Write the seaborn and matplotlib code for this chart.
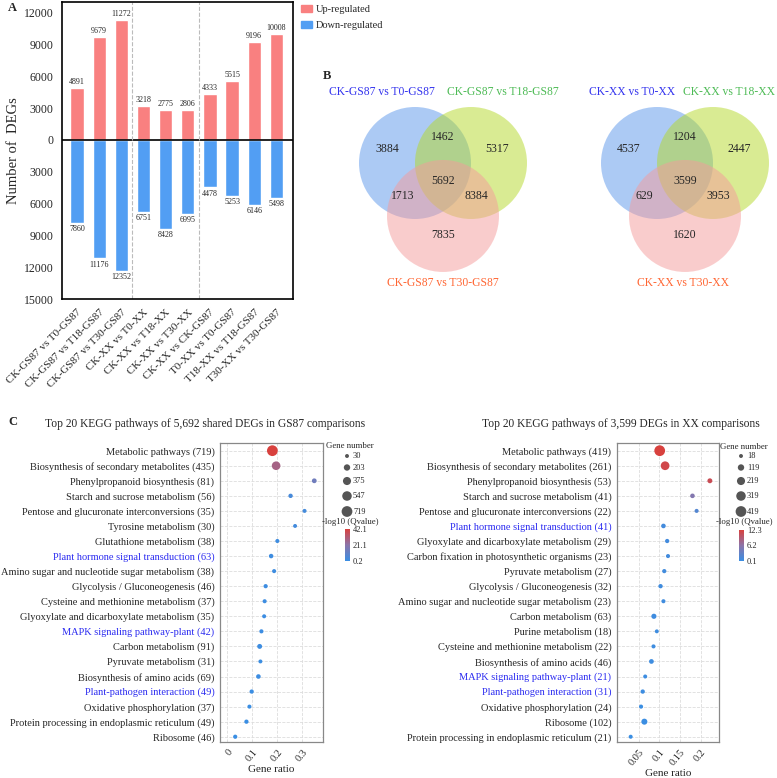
import numpy as np
import pandas as pd
import matplotlib
matplotlib.use('Agg')
import matplotlib.pyplot as plt
import seaborn as sns
from matplotlib.patches import Circle, Patch
from matplotlib.colors import LinearSegmentedColormap, Normalize
from matplotlib.cm import ScalarMappable

# ---------------- data ----------------
comparisons = ['CK-GS87 vs T0-GS87', 'CK-GS87 vs T18-GS87', 'CK-GS87 vs T30-GS87',
               'CK-XX vs T0-XX', 'CK-XX vs T18-XX', 'CK-XX vs T30-XX',
               'CK-XX vs CK-GS87', 'T0-XX vs T0-GS87', 'T18-XX vs T18-GS87', 'T30-XX vs T30-GS87']
up_counts = [4891, 9679, 11272, 3218, 2775, 2806, 4333, 5515, 9196, 10008]
down_counts = [7860, 11176, 12352, 6751, 8428, 6995, 4478, 5253, 6146, 5498]

# venn regions: A only, AB, B only, AC, ABC, BC, C only
venn_gs87_sets = ['CK-GS87 vs T0-GS87', 'CK-GS87 vs T18-GS87', 'CK-GS87 vs T30-GS87']
venn_gs87_counts = [3884, 1462, 5317, 1713, 5692, 8384, 7835]
venn_xx_sets = ['CK-XX vs T0-XX', 'CK-XX vs T18-XX', 'CK-XX vs T30-XX']
venn_xx_counts = [4537, 1204, 2447, 629, 3599, 3953, 1620]

gs87_pathways = ['Metabolic pathways', 'Biosynthesis of secondary metabolites', 'Phenylpropanoid biosynthesis',
                 'Starch and sucrose metabolism', 'Pentose and glucuronate interconversions',
                 'Tyrosine metabolism', 'Glutathione metabolism', 'Plant hormone signal transduction',
                 'Amino sugar and nucleotide sugar metabolism', 'Glycolysis / Gluconeogenesis',
                 'Cysteine and methionine metabolism', 'Glyoxylate and dicarboxylate metabolism',
                 'MAPK signaling pathway-plant', 'Carbon metabolism', 'Pyruvate metabolism',
                 'Biosynthesis of amino acids', 'Plant-pathogen interaction', 'Oxidative phosphorylation',
                 'Protein processing in endoplasmic reticulum', 'Ribosome']
gs87_genes = [719, 435, 81, 56, 35, 30, 38, 63, 38, 46, 37, 35, 42, 91, 31, 69, 49, 37, 49, 46]
gs87_ratio = [0.180, 0.195, 0.348, 0.253, 0.309, 0.271, 0.200, 0.175, 0.187, 0.153,
              0.149, 0.147, 0.136, 0.129, 0.132, 0.124, 0.097, 0.088, 0.076, 0.031]
gs87_qlog = [42.1, 28.0, 14.0, 3.5, 3.0, 2.5, 1.5, 1.3, 1.2, 1.0,
             0.9, 0.8, 0.7, 0.9, 0.6, 0.8, 0.4, 0.3, 0.3, 0.2]
gs87_size_levels = [30, 203, 375, 547, 719]
gs87_q_labels = ['0.2', '21.1', '42.1']

xx_pathways = ['Metabolic pathways', 'Biosynthesis of secondary metabolites', 'Phenylpropanoid biosynthesis',
               'Starch and sucrose metabolism', 'Pentose and glucuronate interconversions',
               'Plant hormone signal transduction', 'Glyoxylate and dicarboxylate metabolism',
               'Carbon fixation in photosynthetic organisms', 'Pyruvate metabolism',
               'Glycolysis / Gluconeogenesis', 'Amino sugar and nucleotide sugar metabolism',
               'Carbon metabolism', 'Purine metabolism', 'Cysteine and methionine metabolism',
               'Biosynthesis of amino acids', 'MAPK signaling pathway-plant', 'Plant-pathogen interaction',
               'Oxidative phosphorylation', 'Ribosome', 'Protein processing in endoplasmic reticulum']
xx_genes = [419, 261, 53, 41, 22, 41, 29, 23, 27, 32, 23, 63, 18, 22, 46, 21, 31, 24, 102, 21]
xx_ratio = [0.101, 0.114, 0.222, 0.180, 0.190, 0.110, 0.119, 0.121, 0.112, 0.103,
            0.110, 0.087, 0.094, 0.086, 0.081, 0.066, 0.060, 0.056, 0.064, 0.031]
xx_qlog = [12.3, 11.6, 11.0, 5.5, 2.0, 0.9, 0.8, 0.8, 0.7, 0.6,
           0.6, 0.5, 0.4, 0.4, 0.4, 0.3, 0.3, 0.2, 0.2, 0.1]
xx_size_levels = [18, 119, 219, 319, 419]
xx_q_labels = ['0.1', '6.2', '12.3']

highlight = ['Plant hormone signal transduction', 'MAPK signaling pathway-plant', 'Plant-pathogen interaction']

# ---------------- style ----------------
sns.set_style('white')
plt.rcParams['font.family'] = ['Liberation Serif', 'DejaVu Serif']

W, H = 777, 778
UP = '#F98080'
DOWN = '#529EF3'
cmap = LinearSegmentedColormap.from_list('q', ['#3A8EE3', '#8C74A8', '#D8413E'])


def px_rect(x0, y0, x1, y1):
    return [x0 / W, 1 - y1 / H, (x1 - x0) / W, (y1 - y0) / H]


fig = plt.figure(figsize=(W / 100, H / 100), dpi=100)
ov = fig.add_axes([0, 0, 1, 1])
ov.set_xlim(0, W)
ov.set_ylim(H, 0)
ov.axis('off')
ov.set_zorder(10)

# ---------------- panel A ----------------
axA = fig.add_axes(px_rect(62, 2, 293, 299))
df_bar = pd.DataFrame({'comparison': comparisons, 'up': up_counts,
                       'down': [-d for d in down_counts]})
sns.barplot(data=df_bar, x='comparison', y='up', color=UP, width=0.6, saturation=1, ax=axA)
sns.barplot(data=df_bar, x='comparison', y='down', color=DOWN, width=0.6, saturation=1, ax=axA)
for i, (u, d) in enumerate(zip(up_counts, down_counts)):
    axA.text(i, u + 200, str(u), ha='center', va='bottom', fontsize=5.8)
    axA.text(i, -d - 200, str(d), ha='center', va='top', fontsize=5.8)
axA.axhline(0, color='black', lw=1.2)
for xv in [2.5, 5.5]:
    axA.axvline(xv, color='#bbbbbb', ls='--', lw=0.8)
axA.set_xlim(-0.68, 9.75)
axA.set_ylim(-15000, 13000)
yt = np.arange(-15000, 12001, 3000)
axA.set_yticks(yt)
axA.set_yticklabels([str(abs(v)) for v in yt], fontsize=8.5)
axA.set_xticks(range(len(comparisons)))
axA.set_xticklabels(comparisons, rotation=45, ha='right', rotation_mode='anchor', fontsize=8)
axA.set_xlabel('')
axA.set_ylabel('Number of  DEGs', fontsize=10.5, labelpad=3)
axA.tick_params(direction='out', length=4, width=1, pad=2)
for s in axA.spines.values():
    s.set_color('black')
    s.set_linewidth(1.2)
fig.legend(handles=[Patch(color=UP, label='Up-regulated'), Patch(color=DOWN, label='Down-regulated')],
           loc='upper left', bbox_to_anchor=(297 / W, 1 - 1 / H), frameon=False, fontsize=7.5,
           handlelength=1.0, handleheight=0.7, handletextpad=0.4, labelspacing=0.6, borderaxespad=0)
ov.text(8, 8, 'A', fontsize=9, fontweight='bold', ha='left', va='center')

# ---------------- panel B ----------------
venn_centers = [(-0.5, 0.0), (0.5, 0.0), (0.0, -0.946)]
venn_fill = ['#5A96EB', '#B4D928', '#F59B9B']
venn_label_col = ['#3333EE', '#4DBB55', '#FF6633']
region_pos = [(-1.0, 0.245), (0.0, 0.46), (0.96, 0.245), (-0.72, -0.59),
              (0.0, -0.316), (0.6, -0.59), (0.0, -1.29)]


def venn(ax, sets, counts, label_pos):
    for (cx, cy), col in zip(venn_centers, venn_fill):
        ax.add_patch(Circle((cx, cy), 1.0, facecolor=col, alpha=0.5, edgecolor='none'))
    for (x, y), n in zip(region_pos, counts):
        ax.text(x, y, str(n), ha='center', va='center', fontsize=8.5)
    for (x, y), lab, col in zip(label_pos, sets, venn_label_col):
        ax.text(x, y, lab, ha='center', va='center', fontsize=8.4, color=col, clip_on=False)
    ax.axis('off')


axB1 = fig.add_axes(px_rect(333, 70, 553, 300))
axB1.set_xlim((333 - 443) / 56, (553 - 443) / 56)
axB1.set_ylim((163 - 300) / 56, (163 - 70) / 56)
venn(axB1, venn_gs87_sets, venn_gs87_counts, [(-1.09, 1.27), (1.07, 1.27), (0.0, -2.14)])

axB2 = fig.add_axes(px_rect(590, 70, 777, 300))
axB2.set_xlim((590 - 685) / 56, (777 - 685) / 56)
axB2.set_ylim((163 - 300) / 56, (163 - 70) / 56)
venn(axB2, venn_xx_sets, venn_xx_counts, [(-0.95, 1.27), (0.78, 1.27), (-0.04, -2.14)])
ov.text(323, 76, 'B', fontsize=9, fontweight='bold', ha='left', va='center')

# ---------------- panel C ----------------
SIZES = (8, 60)


def dot_size(g, norm):
    return SIZES[0] + (g - norm[0]) / (norm[1] - norm[0]) * (SIZES[1] - SIZES[0])


def dot_panel(ax, names, genes, ratio, qlog, size_norm, hue_norm, ticks, title, title_x):
    labels = [f'{n} ({g})' for n, g in zip(names, genes)]
    df = pd.DataFrame({'pathway': labels, 'ratio': ratio, 'genes': genes, 'q': qlog})
    sns.scatterplot(data=df, x='ratio', y='pathway', size='genes', sizes=SIZES, size_norm=size_norm,
                    hue='q', hue_norm=hue_norm, palette=cmap, legend=False, edgecolor='none',
                    ax=ax, zorder=3)
    ax.set_ylim(len(labels) - 1 + 0.35, -0.51)
    ax.set_yticks(range(len(labels)))
    ax.set_yticklabels(labels, fontsize=7.45)
    for tl, n in zip(ax.get_yticklabels(), names):
        if n in highlight:
            tl.set_color('#2B2BF0')
    ax.set_xticks(ticks)
    ax.set_xticklabels([f'{t:g}' for t in ticks], rotation=50, ha='right', rotation_mode='anchor',
                       fontsize=7.5)
    ax.set_xlabel('Gene ratio', fontsize=8, labelpad=1)
    ax.set_ylabel('')
    ax.grid(True, ls='--', color='#dddddd', lw=0.6)
    ax.set_axisbelow(True)
    ax.tick_params(length=2, color='#888888', pad=2)
    for s in ax.spines.values():
        s.set_color('#888888')
        s.set_linewidth(0.9)
    ov.text(title_x, 424, title, ha='center', va='center', fontsize=8.3)


def legend_block(x_dot, y_title, levels, size_norm, hue_norm, q_labels, cb_rect):
    ov.text(x_dot + 3, y_title, 'Gene number', ha='center', va='center', fontsize=6.3)
    ys = [456, 467.5, 481, 496, 511.5]
    ov.scatter([x_dot] * len(levels), ys, s=[dot_size(g, size_norm) for g in levels],
               color='#555555', edgecolor='none')
    for y, g in zip(ys, levels):
        ov.text(x_dot + 6, y, str(g), ha='left', va='center', fontsize=6)
    ov.text(x_dot + 3, 522.5, '-log10 (Qvalue)', ha='center', va='center', fontsize=6.3)
    cax = fig.add_axes(px_rect(*cb_rect))
    cb = fig.colorbar(ScalarMappable(norm=Normalize(*hue_norm), cmap=cmap), cax=cax)
    cb.outline.set_visible(False)
    cb.set_ticks([hue_norm[0], (hue_norm[0] + hue_norm[1]) / 2, hue_norm[1]])
    cb.set_ticklabels(q_labels)
    cax.tick_params(length=0, labelsize=6, pad=2)


axC1 = fig.add_axes(px_rect(220, 443, 323, 742))
dot_panel(axC1, gs87_pathways, gs87_genes, gs87_ratio, gs87_qlog, (30, 719), (0.2, 42.1),
          [0, 0.1, 0.2, 0.3], 'Top 20 KEGG pathways of 5,692 shared DEGs in GS87 comparisons', 205)
axC1.set_xlim(-0.03, 0.383)
legend_block(347, 446, gs87_size_levels, (30, 719), (0.2, 42.1), gs87_q_labels, (345, 529, 350, 561))

axC2 = fig.add_axes(px_rect(617, 443, 719, 742))
dot_panel(axC2, xx_pathways, xx_genes, xx_ratio, xx_qlog, (18, 419), (0.1, 12.3),
          [0.05, 0.1, 0.15, 0.2], 'Top 20 KEGG pathways of 3,599 DEGs in XX comparisons', 621)
axC2.set_xlim(-0.002, 0.244)
legend_block(741, 447, xx_size_levels, (18, 419), (0.1, 12.3), xx_q_labels, (739, 530, 744, 561))
ov.text(8, 422, 'C', fontsize=9, fontweight='bold', ha='left', va='center')

fig.savefig('out.png', dpi=100)
